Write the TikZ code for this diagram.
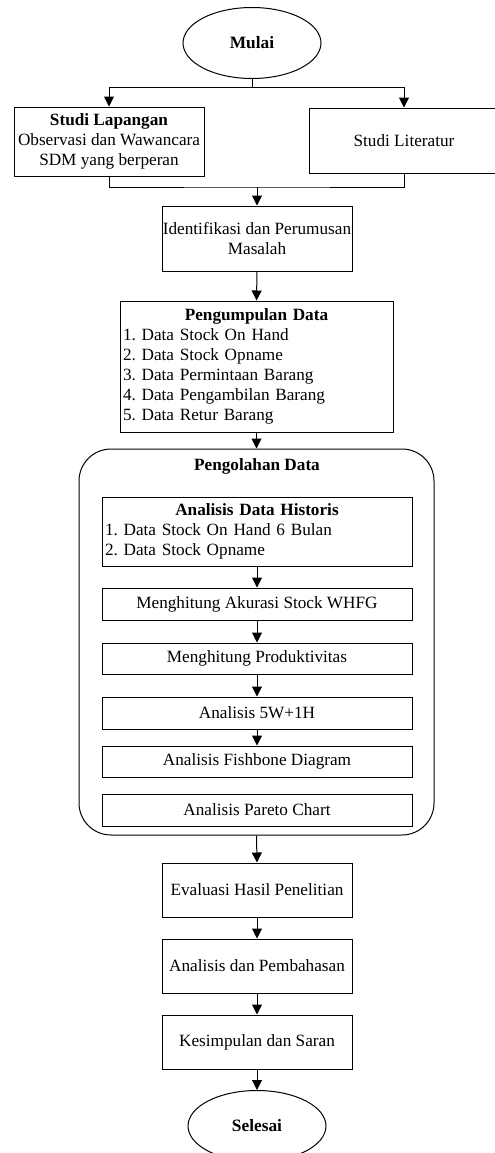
\documentclass[tikz,border=0pt]{standalone}
\usepackage{fontspec}
\setmainfont{Liberation Serif}
\usetikzlibrary{shapes.geometric,arrows.meta}
\begin{document}
\begin{tikzpicture}[x=0.75pt,y=-0.75pt,
  font=\fontsize{12.9}{15}\selectfont\frenchspacing,
  box/.style={draw=black, line width=0.75pt, rectangle, inner sep=0pt, align=center},
  listbox/.style={box, inner xsep=2.25pt, align=left},
  term/.style={draw=black, line width=0.75pt, ellipse, inner sep=0pt,
    minimum width=103.5pt, minimum height=53.25pt, font=\fontsize{13}{15}\selectfont\bfseries},
  arr/.style={line width=0.75pt, -{Triangle[length=7.5pt,width=7.5pt]}},
  ln/.style={line width=0.75pt},
  mainw/.style={minimum width=142.5pt},
  innerw/.style={minimum width=232.5pt},
]
\useasboundingbox (0,0) rectangle (494,1153);

% start
\node[term] (mulai) at (252,43) {Mulai};

% studies
\node[box, mainw, minimum height=51.75pt] (lap) at (109,141.5)
  {\textbf{Studi Lapangan}\\Observasi dan Wawancara\\SDM yang berperan};
\node[box, mainw, minimum height=48.75pt] (lit) at (404,140.5) {Studi Literatur};
\coordinate (j1) at (252,87);
\draw[ln] (mulai.south) -- (j1);
\draw[arr] (j1) -| (lap.north);
\draw[arr] (j1) -| (lit.north);

\coordinate (j2) at (257,187);
\draw[ln] (lap.south) |- (j2) -| (lit.south);

\node[box, mainw, minimum height=48.75pt] (ident) at (257,238.5)
  {Identifikasi dan Perumusan\\Masalah};
\draw[arr] (j2) -- (ident.north);

\node[listbox, minimum width=204.75pt, text width=200.25pt, minimum height=98.25pt] (kumpul) at (256.5,366.5)
  {{\centering\textbf{Pengumpulan Data}\par}
   1. Data Stock On Hand\\
   2. Data Stock Opname\\
   3. Data Permintaan Barang\\
   4. Data Pengambilan Barang\\
   5. Data Retur Barang};
\draw[arr] (ident.south) -- (kumpul.north);

% processing container
\node[draw=black, line width=0.75pt, rounded corners=24pt, inner sep=0pt,
  minimum width=266.25pt, minimum height=289.5pt] (olah) at (256.5,642) {};
\node[font=\fontsize{12.9}{15}\selectfont\bfseries] (olahT) at (257,466) {Pengolahan Data};
\draw[arr] (kumpul.south) -- (olah.north);

\node[listbox, innerw, text width=228pt, minimum height=51.75pt] (hist) at (257,531.5)
  {{\centering\textbf{Analisis Data Historis}\par}
   1. Data Stock On Hand 6 Bulan\\
   2. Data Stock Opname};
\node[box, innerw, minimum height=24pt] (akur) at (257,604) {Menghitung Akurasi Stock WHFG};
\node[box, innerw, minimum height=23.25pt] (prod) at (257,658.5) {Menghitung Produktivitas};
\node[box, innerw, minimum height=24pt] (w5) at (257,713) {Analisis 5W+1H};
\node[box, innerw, minimum height=23.25pt] (fish) at (257,761.5) {Analisis Fishbone Diagram};
\node[box, innerw, minimum height=24pt] (pareto) at (257,810) {Analisis Pareto Chart};
\draw[arr] (hist.south) -- (akur.north);
\draw[arr] (akur.south) -- (prod.north);
\draw[arr] (prod.south) -- (w5.north);
\draw[arr] (w5.south) -- (fish.north);

% final steps
\node[box, mainw, minimum height=40.5pt] (eval) at (257,890) {Evaluasi Hasil Penelitian};
\node[box, mainw, minimum height=40.5pt] (bahas) at (257,966) {Analisis dan Pembahasan};
\node[box, mainw, minimum height=40.5pt] (simpul) at (257,1042) {Kesimpulan dan Saran};
\node[term] (selesai) at (257,1126) {Selesai};
\draw[arr] (olah.south) -- (eval.north);
\draw[arr] (eval.south) -- (bahas.north);
\draw[arr] (bahas.south) -- (simpul.north);
\draw[arr] (simpul.south) -- (selesai.north);
\end{tikzpicture}
\end{document}
